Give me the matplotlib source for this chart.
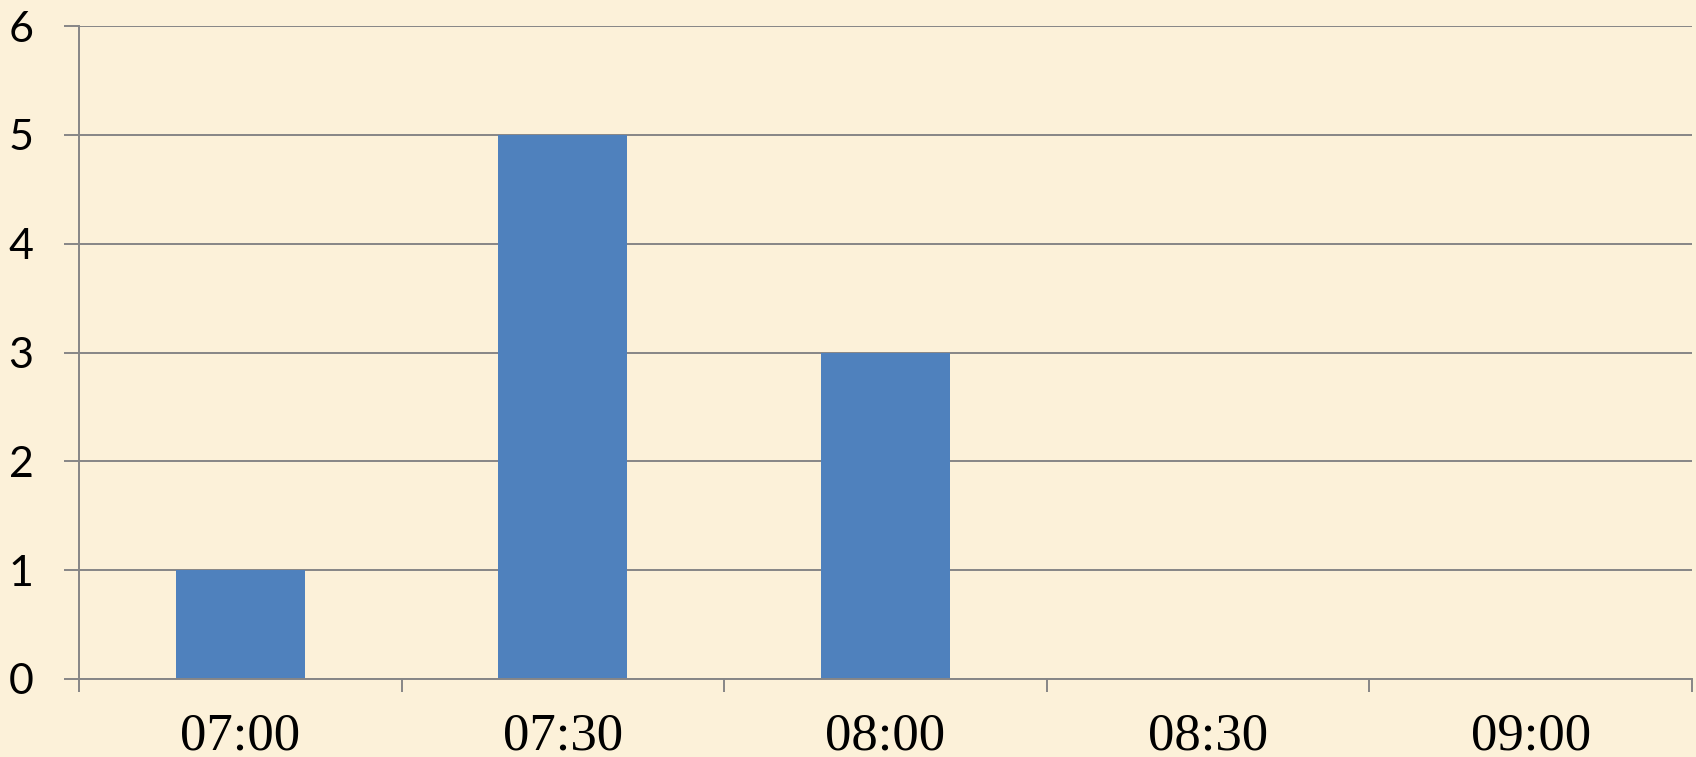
import matplotlib.pyplot as plt
import numpy as np

# time slots and counts
slots = ["07:00", "07:30", "08:00", "08:30", "09:00"]
counts = [1, 5, 3, 0, 0]
y_ticks = [0, 1, 2, 3, 4, 5, 6]

bg = "#FCF1D9"
grid_col = "#868686"

fig = plt.figure(figsize=(16.96, 7.57), dpi=100, facecolor=bg)
ax = fig.add_axes([79 / 1696, 1 - 679 / 757, (1692 - 79) / 1696, (679 - 26) / 757])
ax.set_facecolor(bg)

x = np.arange(len(slots))
ax.bar(x, counts, width=0.4, color="#4F81BD", zorder=3)

ax.set_xlim(-0.5, len(slots) - 0.5)
ax.set_ylim(0, 6)
ax.set_yticks(y_ticks)
ax.set_yticklabels([str(v) for v in y_ticks], family="Lato", fontsize=31)
ax.yaxis.grid(True, color=grid_col, linewidth=1.4, zorder=1)
ax.tick_params(axis="y", length=10.8, width=1.4, color=grid_col, pad=22)

ax.set_xticks(x)
ax.set_xticklabels(slots, family="Liberation Serif", fontsize=38)
ax.set_xticks(np.arange(len(slots) + 1) - 0.5, minor=True)
ax.tick_params(axis="x", which="major", length=0, pad=24)
ax.tick_params(axis="x", which="minor", length=9.4, width=1.4, color=grid_col)

for s in ["top", "right"]:
    ax.spines[s].set_visible(False)
for s in ["left", "bottom"]:
    ax.spines[s].set_color(grid_col)
    ax.spines[s].set_linewidth(1.4)
    ax.spines[s].set_zorder(4)

fig.savefig("out.png", dpi=100, facecolor=bg)
